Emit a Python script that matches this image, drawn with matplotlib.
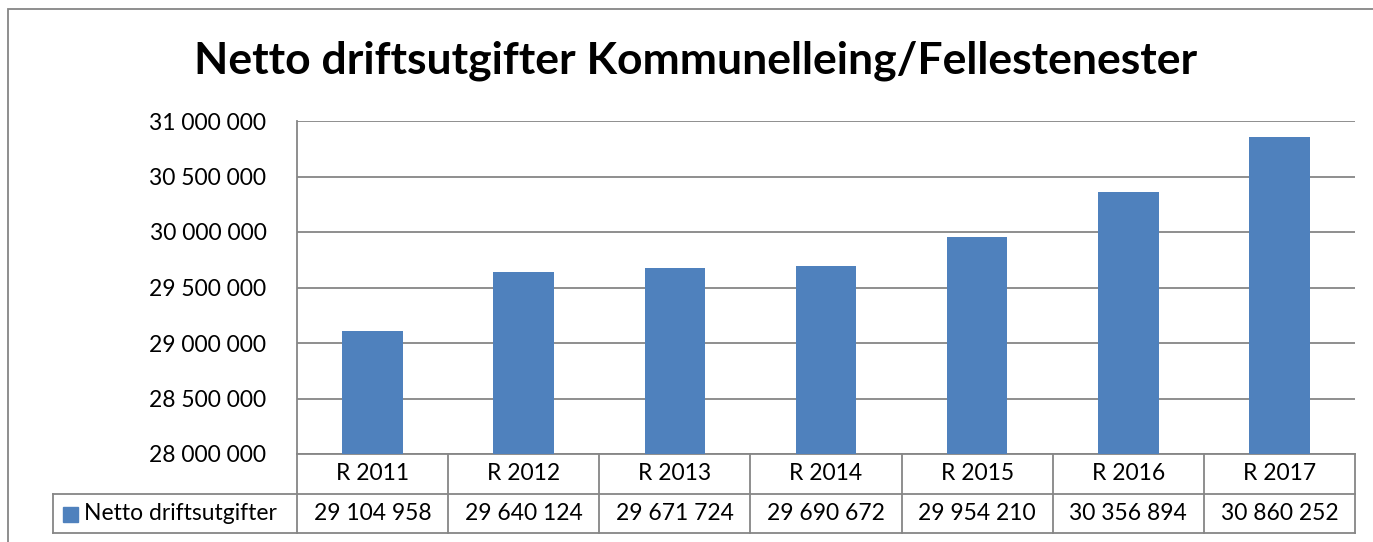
import matplotlib.pyplot as plt
import matplotlib.transforms as mtransforms
from matplotlib.patches import Rectangle

categories = ["R 2011", "R 2012", "R 2013", "R 2014", "R 2015", "R 2016", "R 2017"]
values = [29104958, 29640124, 29671724, 29690672, 29954210, 30356894, 30860252]
series_name = "Netto driftsutgifter"
title = "Netto driftsutgifter Kommunelleing/Fellestenester"
yticks = [28000000, 28500000, 29000000, 29500000, 30000000, 30500000, 31000000]

BLUE = "#4F81BD"
GRID = "#868686"
FONT = "Lato"


def fmt(v):
    return f"{v:,}".replace(",", " ")


W, H = 1373, 542
fig = plt.figure(figsize=(W / 100, H / 100), dpi=100)
plt.rcParams["font.family"] = [FONT, "DejaVu Sans"]

# outer chart frame (runs off the right and bottom edge)
fig.patches.append(Rectangle((8 / W, -0.2), 1.2, 1 - 9 / H + 0.2,
                             transform=fig.transFigure, fill=False,
                             edgecolor=GRID, lw=1.3))

fig.text(696 / W, 1 - 61 / H, title, ha="center", va="center",
         fontsize=32, fontweight="bold")

left, right, top, bottom = 297, 1355, 121, 454
ax = fig.add_axes([left / W, 1 - bottom / H, (right - left) / W, (bottom - top) / H])

x = range(len(categories))
ax.bar(x, values, width=0.4, color=BLUE, zorder=3)
ax.set_xlim(-0.5, len(categories) - 0.5)
ax.set_ylim(yticks[0], yticks[-1])
ax.set_yticks(yticks)
ax.set_yticklabels([fmt(v) for v in yticks], fontsize=16.5)
ax.tick_params(axis="y", length=0, pad=22)
ax.set_xticks([])
ax.grid(axis="y", color=GRID, lw=1.3, zorder=0)
for s in ["top", "right", "bottom"]:
    ax.spines[s].set_visible(False)
ax.spines["left"].set_color(GRID)
ax.spines["left"].set_linewidth(1.3)

# data table under the plot
trans = mtransforms.blended_transform_factory(ax.transData, ax.transAxes)
ph = bottom - top
r1 = -(494 - bottom) / ph
r2 = -(533 - bottom) / ph
col_w = (right - left) / len(categories)
x_leg = -0.5 - (left - 53) / col_w
n = len(categories)

line_kw = dict(color=GRID, lw=1.3, transform=trans, clip_on=False)
ax.plot([-0.5, n - 0.5], [0, 0], **line_kw)
ax.plot([x_leg, n - 0.5], [r1, r1], **line_kw)
ax.plot([x_leg, n - 0.5], [r2, r2], **line_kw)
ax.plot([x_leg, x_leg], [r1, r2], **line_kw)
for i in range(n + 1):
    ax.plot([i - 0.5, i - 0.5], [0, r2], **line_kw)

for i, (c, v) in enumerate(zip(categories, values)):
    ax.text(i, r1 / 2, c, ha="center", va="center", fontsize=16.5, transform=trans)
    ax.text(i, (r1 + r2) / 2, fmt(v), ha="center", va="center", fontsize=16.5,
            transform=trans)

# legend key inside the table
fig.patches.append(Rectangle((63 / W, 1 - 522 / H), 15 / W, 15 / H,
                             transform=fig.transFigure, color=BLUE))
fig.text(84 / W, 1 - 514 / H, series_name, ha="left", va="center", fontsize=16.5)

fig.savefig("out.png", dpi=100)
